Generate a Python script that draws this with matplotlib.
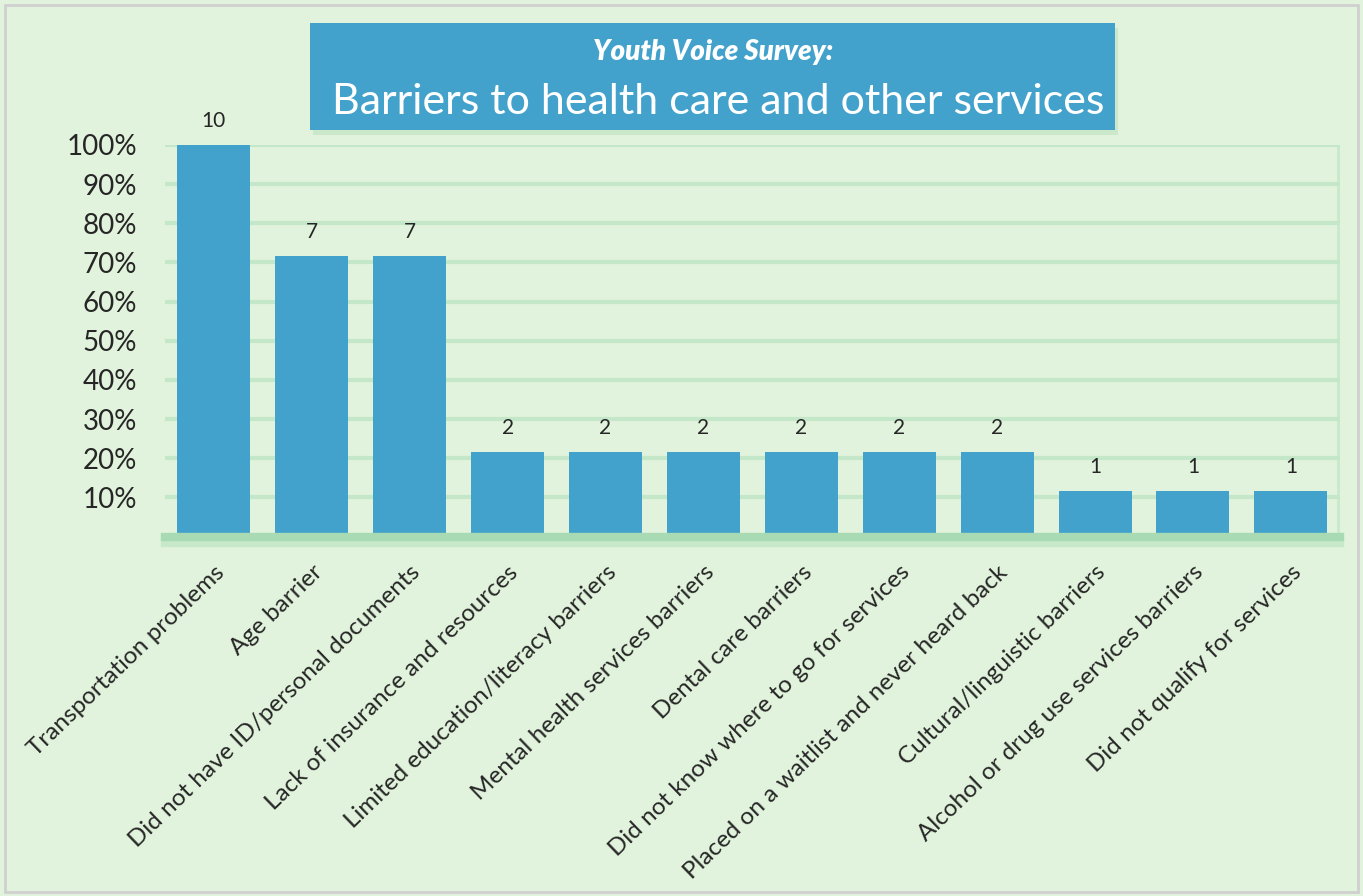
import matplotlib.pyplot as plt
from matplotlib.patches import Rectangle

categories = [
    "Transportation problems",
    "Age barrier",
    "Did not have ID/personal documents",
    "Lack of insurance and resources",
    "Limited education/literacy barriers",
    "Mental health services barriers",
    "Dental care barriers",
    "Did not know where to go for services",
    "Placed on a waitlist and never heard back",
    "Cultural/linguistic barriers",
    "Alcohol or drug use services barriers",
    "Did not qualify for services",
]
counts = [10, 7, 7, 2, 2, 2, 2, 2, 2, 1, 1, 1]
percent = [100, 71.7, 71.7, 21.7, 21.7, 21.7, 21.7, 21.7, 21.7, 11.7, 11.7, 11.7]
y_ticks = [10, 20, 30, 40, 50, 60, 70, 80, 90, 100]

BG = "#e1f3dc"
BAR = "#43a2cb"
GRID = "#c5e7c9"
AXIS = "#a8dbb3"
TEXT = "#262626"

plt.rcParams["font.family"] = ["Lato", "DejaVu Sans"]

fig = plt.figure(figsize=(13.63, 8.96), dpi=100)
fig.patch.set_facecolor(BG)

# faint page border
fig.patches.append(Rectangle((0.004, 0.004), 0.992, 0.99, transform=fig.transFigure,
                             fill=False, edgecolor="#d0d0d0", linewidth=2))

ax = fig.add_axes([0.121, 0.4011, 0.862, 0.4371])
ax.set_facecolor(BG)

x = list(range(len(categories)))
ax.bar(x, percent, width=0.745, color=BAR, zorder=3)

for xi, v, c in zip(x, percent, counts):
    ax.annotate(str(c), (xi, v), xytext=(0, 10), textcoords="offset points",
                ha="center", va="bottom", fontsize=15, color=TEXT,
                annotation_clip=False)

ax.set_xlim(-0.5, 11.5)
ax.set_ylim(0, 100)
ax.set_yticks(y_ticks)
ax.set_yticklabels([f"{t}%" for t in y_ticks], fontsize=20, color=TEXT)
ax.yaxis.grid(True, color=GRID, linewidth=3, zorder=0)
ax.tick_params(axis="y", length=0, pad=20)

ax.set_xticks(x)
ax.set_xticklabels(categories, rotation=44, ha="right", va="top",
                   rotation_mode="anchor", fontsize=17.5, color=TEXT)
ax.tick_params(axis="x", length=0, pad=18)

for side in ["top", "right", "left"]:
    ax.spines[side].set_visible(False)
ax.spines["bottom"].set_color(AXIS)
ax.spines["bottom"].set_linewidth(6)
ax.spines["bottom"].set_zorder(4)
# soft shadow under the axis
ax.axhline(-1.6, color=AXIS, linewidth=6, alpha=0.45, clip_on=False, zorder=2)
# shadow strip at the right edge of the plot
ax.axvline(11.5, color=GRID, linewidth=5, alpha=0.8, zorder=1)

# title box with shadow
fig.patches.append(Rectangle((0.2294, 0.8489), 0.5906, 0.1194, transform=fig.transFigure,
                             facecolor="#c9e8c9", edgecolor="none", alpha=0.9))
fig.patches.append(Rectangle((0.2274, 0.8549), 0.5906, 0.1194, transform=fig.transFigure,
                             facecolor=BAR, edgecolor="none"))
fig.text(0.523, 0.942, "Youth Voice Survey:", ha="center", va="center",
         fontsize=20, fontweight="heavy", style="italic", color="white")
fig.text(0.527, 0.886, "Barriers to health care and other services", ha="center",
         va="center", fontsize=31, color="white")

fig.savefig("out.png", dpi=100, facecolor=BG)
